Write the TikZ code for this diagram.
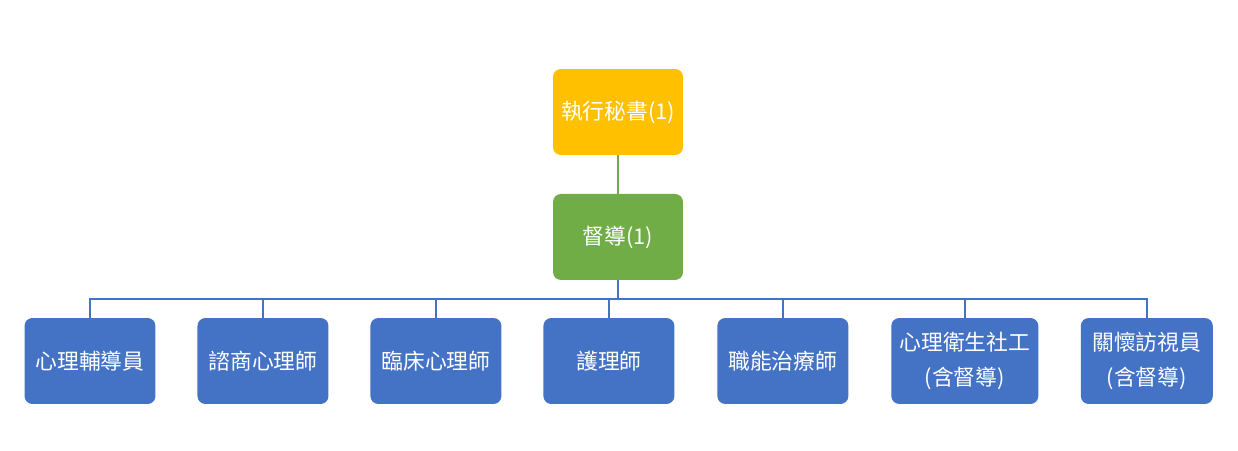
\documentclass[tikz,border=0pt]{standalone}
\usepackage{fontspec}
\setmainfont{Noto Sans CJK TC}
\usepackage{tikz}
\usetikzlibrary{calc}
\definecolor{gold}{HTML}{FFC000}
\definecolor{leaf}{HTML}{70AD47}
\definecolor{steel}{HTML}{4472C4}
\tikzstyle{secretary} = [rectangle, rounded corners=4.5pt, fill=gold, text=white,
    minimum width=2.6cm, minimum height=1.72cm, font=\fontsize{12.4}{16}\selectfont]
\tikzstyle{supervisor} = [rectangle, rounded corners=4.5pt, fill=leaf, text=white,
    minimum width=2.6cm, minimum height=1.72cm, font=\fontsize{12.4}{16}\selectfont]
\tikzstyle{staff} = [rectangle, rounded corners=4.5pt, fill=steel, text=white, align=center,
    minimum width=2.62cm, minimum height=1.72cm, font=\fontsize{12.4}{20}\selectfont]
\tikzstyle{upline} = [draw=leaf, line width=1.1pt]
\tikzstyle{downline} = [draw=steel, line width=1.1pt]

\begin{document}
\begin{tikzpicture}[x=0.02cm, y=-0.02cm, node distance=3.46cm]
    \useasboundingbox (0,0) rectangle (1238,450);
    % Nodes
    \node [secretary] (secretary) at (618,112) {執行秘書(1)};
    \node [supervisor, below of=secretary, node distance=2.5cm] (supervisor) {督導(1)};
    \node [staff] (counselor) at (90,361) {心理輔導員};
    \node [staff, right of=counselor] (consultant) {諮商心理師};
    \node [staff, right of=consultant] (clinical) {臨床心理師};
    \node [staff, right of=clinical] (nurse) {護理師};
    \node [staff, right of=nurse, node distance=3.48cm] (therapist) {職能治療師};
    \node [staff, right of=therapist, node distance=3.64cm, minimum width=2.94cm] (social) {心理衛生社工\\(含督導)};
    \node [staff, right of=social, node distance=3.64cm, minimum width=2.64cm] (visitor) {關懷訪視員\\(含督導)};
    % Edges
    \path [upline] (secretary) -- (supervisor);
    \foreach \child in {counselor, consultant, clinical, nurse, therapist, social, visitor}
        \path [downline] (supervisor.south) -- ++(0,19) -| (\child.north);
\end{tikzpicture}
\end{document}
